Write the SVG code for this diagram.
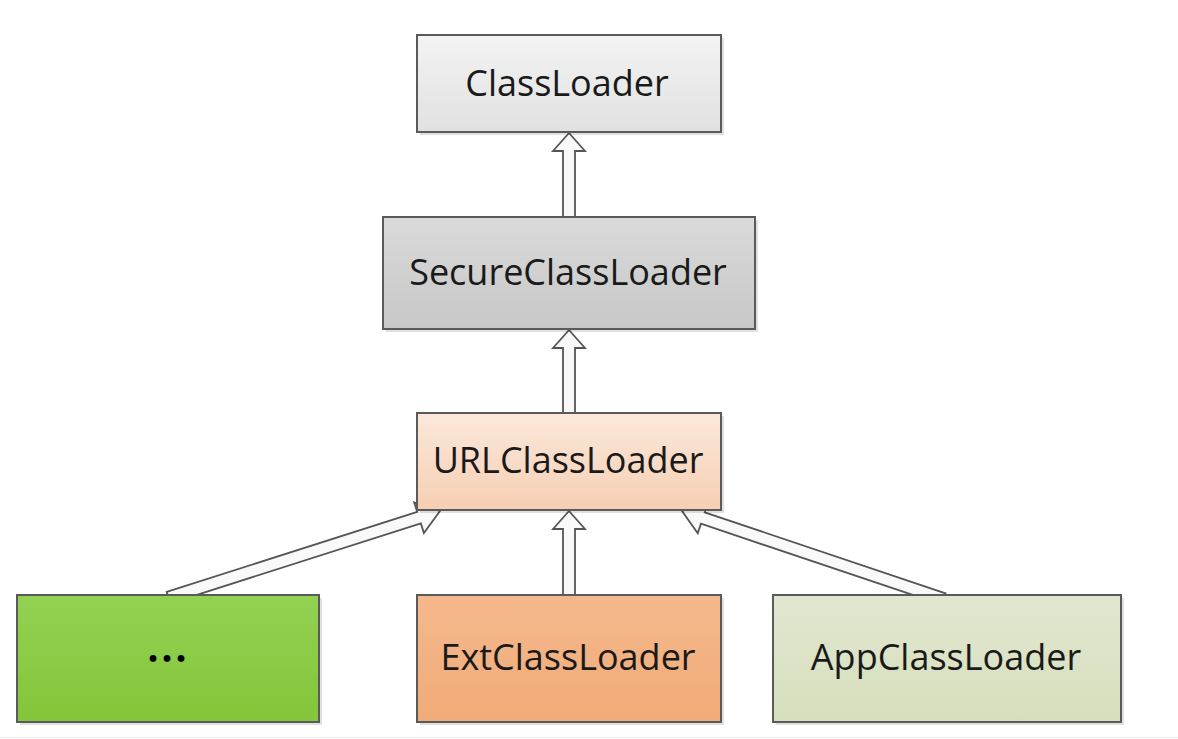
<svg xmlns="http://www.w3.org/2000/svg" width="1178" height="739" viewBox="0 0 1178 739">
  <defs>
    <linearGradient id="gBase" x1="0" y1="0" x2="0" y2="1">
      <stop offset="0" stop-color="#f3f3f3"/>
      <stop offset="1" stop-color="#e1e1e1"/>
    </linearGradient>
    <linearGradient id="gSecure" x1="0" y1="0" x2="0" y2="1">
      <stop offset="0" stop-color="#dadada"/>
      <stop offset="1" stop-color="#c7c7c7"/>
    </linearGradient>
    <linearGradient id="gUrl" x1="0" y1="0" x2="0" y2="1">
      <stop offset="0" stop-color="#fbe8db"/>
      <stop offset="1" stop-color="#f6cfb3"/>
    </linearGradient>
    <linearGradient id="gDots" x1="0" y1="0" x2="0" y2="1">
      <stop offset="0" stop-color="#93d152"/>
      <stop offset="1" stop-color="#84c53a"/>
    </linearGradient>
    <linearGradient id="gExt" x1="0" y1="0" x2="0" y2="1">
      <stop offset="0" stop-color="#f5b88c"/>
      <stop offset="1" stop-color="#f0ab78"/>
    </linearGradient>
    <linearGradient id="gApp" x1="0" y1="0" x2="0" y2="1">
      <stop offset="0" stop-color="#e1e7cf"/>
      <stop offset="1" stop-color="#d6dfbd"/>
    </linearGradient>
  </defs>
  <style>
    .box { stroke: #5a5a5a; stroke-width: 2; }
    .shadow { fill: #000; opacity: 0.12; }
    .label { font-family: "Open Sans", "Liberation Sans", sans-serif; font-size: 36px; fill: #1a1a1a; text-anchor: middle; }
    .arrow { fill: #f9f9f9; stroke: #555555; stroke-width: 1.8; stroke-linejoin: miter; }
  </style>

  <rect width="1178" height="739" fill="#ffffff"/>
  <line x1="0" y1="737.5" x2="1178" y2="737.5" stroke="#ececec" stroke-width="1"/>

  <!-- hollow block arrows: each polygon has its tip at the local origin, pointing along +x -->
  <g id="connectors">
    <!-- SecureClassLoader to ClassLoader -->
    <polygon class="arrow" transform="translate(569,133) rotate(-90)" points="-84,-6 -18,-6 -18,-16 0,0 -18,16 -18,6 -84,6"/>
    <!-- URLClassLoader to SecureClassLoader -->
    <polygon class="arrow" transform="translate(569,330) rotate(-90)" points="-83,-6 -18,-6 -18,-16 0,0 -18,16 -18,6 -83,6"/>
    <!-- ExtClassLoader to URLClassLoader -->
    <polygon class="arrow" transform="translate(569,511) rotate(-90)" points="-84,-6 -18,-6 -18,-16 0,0 -18,16 -18,6 -84,6"/>
    <!-- ... to URLClassLoader -->
    <polygon class="arrow" transform="translate(440,511) rotate(-17.7)" points="-285,-6 -22,-6 -22,-16 0,0 -22,16 -22,6 -285,6"/>
    <!-- AppClassLoader to URLClassLoader -->
    <polygon class="arrow" transform="translate(682,511) rotate(198.6)" points="-276,-6 -22,-6 -22,-16 0,0 -22,16 -22,6 -276,6"/>
  </g>

  <g id="node-classloader">
    <rect class="shadow" x="420" y="38" width="304" height="97"/>
    <rect class="box" x="417" y="35" width="304" height="97" fill="url(#gBase)"/>
    <text class="label" x="567" y="96">ClassLoader</text>
  </g>

  <g id="node-secureclassloader">
    <rect class="shadow" x="386" y="220" width="372" height="112"/>
    <rect class="box" x="383" y="217" width="372" height="112" fill="url(#gSecure)"/>
    <text class="label" x="568" y="285">SecureClassLoader</text>
  </g>

  <g id="node-urlclassloader">
    <rect class="shadow" x="420" y="416" width="304" height="97"/>
    <rect class="box" x="417" y="413" width="304" height="97" fill="url(#gUrl)"/>
    <text class="label" x="568" y="473">URLClassLoader</text>
  </g>

  <g id="node-others">
    <rect class="shadow" x="20" y="598" width="302" height="127"/>
    <rect class="box" x="17" y="595" width="302" height="127" fill="url(#gDots)"/>
    <text x="167" y="674" font-family="Noto Sans CJK SC, sans-serif" font-size="42" font-weight="bold" fill="#000" text-anchor="middle">…</text>
  </g>

  <g id="node-extclassloader">
    <rect class="shadow" x="420" y="598" width="304" height="127"/>
    <rect class="box" x="417" y="595" width="304" height="127" fill="url(#gExt)"/>
    <text class="label" x="568" y="670">ExtClassLoader</text>
  </g>

  <g id="node-appclassloader">
    <rect class="shadow" x="776" y="598" width="348" height="127"/>
    <rect class="box" x="773" y="595" width="348" height="127" fill="url(#gApp)"/>
    <text class="label" x="946" y="670">AppClassLoader</text>
  </g>
</svg>
